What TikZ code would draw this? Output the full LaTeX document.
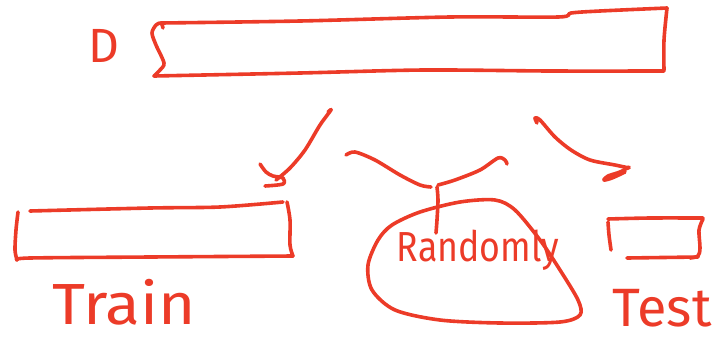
\documentclass[tikz,border=0pt]{standalone}
\usepackage{fontspec}
\setmainfont{Fira Sans}
\definecolor{pen}{RGB}{236,59,40}
\begin{document}
\begin{tikzpicture}[x=1pt,y=-1pt,
  pen/.style={draw=pen,line width=3.6pt,line cap=round,line join=round},
  lbl/.style={text=pen,inner sep=0pt,font=\fontsize{56}{58}\selectfont}]
\useasboundingbox (0,0) rectangle (723,341);
% D box
\draw[pen] plot[smooth] coordinates {(161,23) (300,21) (450,17) (558,17) (571,13) (600,11) (667,8)};
\draw[pen] plot[smooth] coordinates {(667,8) (664,40) (664,70)};
\draw[pen] plot[smooth] coordinates {(664,71) (550,71) (424,70) (300,73) (154,76)};
\draw[pen] plot[smooth] coordinates {(154,76) (160,70) (164,63) (156,45) (152,33) (156,25) (161,23) (163,28)};
\node[lbl,font=\fontsize{48}{50}\selectfont] (D) at (104,46) {D};
\coordinate (dbox) at (410,45);
% Train box
\draw[pen] plot[smooth] coordinates {(18,212) (16,230) (15,250) (17,260)};
\draw[pen] plot[smooth] coordinates {(30,211) (150,208) (220,207) (283,202)};
\draw[pen] plot[smooth] coordinates {(287,202) (290,220) (290,245) (293,256)};
\draw[pen] plot[smooth] coordinates {(17,260) (30,258) (150,257) (293,256)};
\coordinate (trainbox) at (153,232);
\node[lbl,font=\fontsize{58}{60}\selectfont,xscale=1.1] (train) at (124,302) {Train};
% Test box
\draw[pen] plot[smooth] coordinates {(608,222) (609,235) (611,250)};
\draw[pen] plot[smooth] coordinates {(608,219) (650,218) (703,218)};
\draw[pen] plot[smooth] coordinates {(703,219) (699,230) (700,248) (698,256) (690,258)};
\draw[pen] plot[smooth] coordinates {(627,258) (698,257)};
\coordinate (testbox) at (655,238);
\node[lbl,font=\fontsize{54}{56}\selectfont] (test) at (662,308) {Test};
% arrows
\draw[pen] plot[smooth] coordinates {(328,112) (331,110) (320,125) (305,150) (290,168) (276,180)};
\draw[pen] plot[smooth] coordinates {(260,164) (266,172) (273,176) (283,178) (283,184) (265,186)};
\draw[pen] plot[smooth] coordinates {(537,123) (535,118) (540,120) (555,137) (571,150) (590,160) (615,165) (629,168)};
\draw[pen] plot[smooth] coordinates {(629,167) (620,172) (608,176) (604,180) (612,178) (625,172)};
% brace
\draw[pen] plot[smooth] coordinates {(346,155) (355,152) (375,160) (400,175) (420,185) (431,187)};
\draw[pen] plot[smooth] coordinates {(438,185) (455,180) (480,170) (498,158) (505,160) (507,164)};
\draw[pen] plot[smooth] coordinates {(437,187) (438,200) (437,220) (436,233)};
% blob
\draw[pen] plot[smooth cycle] coordinates {(392,225) (420,212) (460,202) (495,200) (515,210) (540,240) (560,270) (578,300) (580,315) (560,322) (500,323) (440,320) (395,310) (372,290) (368,265) (378,240)};
\node[lbl,font=\fontsize{42}{44}\selectfont,xscale=0.85] (rand) at (478,250) {Randomly};
\end{tikzpicture}
\end{document}
